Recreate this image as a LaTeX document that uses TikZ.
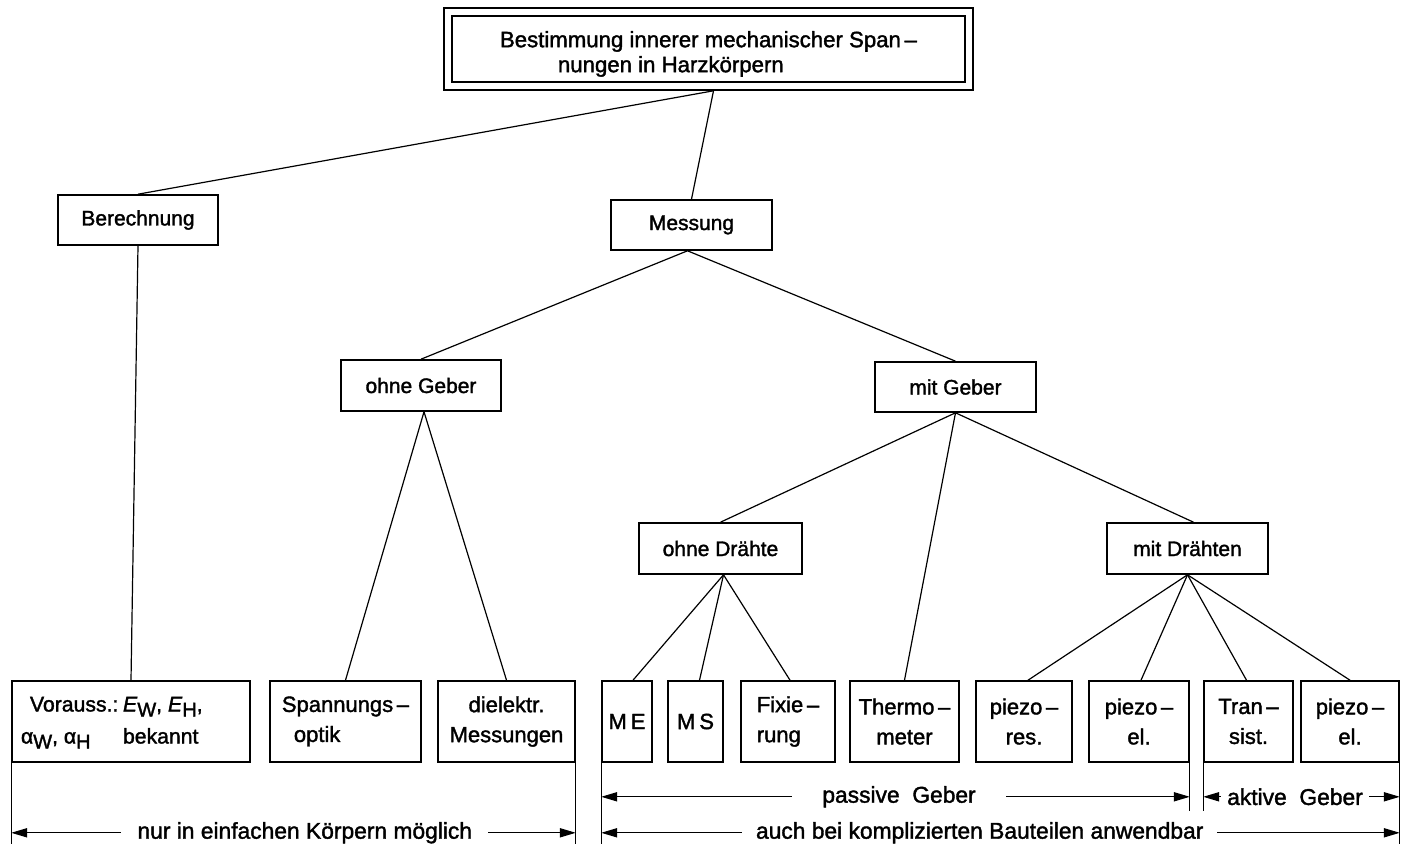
\documentclass[tikz,border=0pt]{standalone}
\usepackage{fontspec}
\setmainfont{Liberation Sans}[FakeBold=1.6]
\usetikzlibrary{arrows.meta,fit}
\newcommand{\sbs}[1]{\raisebox{-0.45ex}{\fontsize{10}{10}\selectfont #1}}
\begin{document}
\begin{tikzpicture}[x=0.5pt,y=-0.5pt,
  txt/.style={font=\fontsize{10.5}{15}\selectfont},
  btxt/.style={font=\fontsize{11}{15}\selectfont},
  box/.style={draw, line width=0.8pt, txt, inner sep=0pt, align=center},
  bbox/.style={box, btxt},
  sz/.style 2 args={minimum width=#1*0.5pt, minimum height=#2*0.5pt},
  conn/.style={line width=0.6pt},
  ext/.style={line width=0.6pt},
  dim/.style={line width=0.6pt, {Triangle[length=8pt,width=4.6pt]}-{Triangle[length=8pt,width=4.6pt]}},
  lab/.style={font=\fontsize{11.4}{14}\selectfont, fill=white, inner ysep=1pt}]
\useasboundingbox[fill=white] (0,0) rectangle (1408,844);

% top
\node[box, sz={513}{66}, font=\fontsize{11.1}{12.5}\selectfont, align=left] (top) at (708.5,49)
  {\rule{0pt}{13pt}Bestimmung innerer mechanischer Span\,–\\\hspace*{29pt}nungen in Harzkörpern};
\node[draw, line width=0.8pt, fit=(top), inner sep=3.6pt] (topo) {};

\node[box, sz={160}{50}] (ber) at (138,220) {Berechnung};
\node[box, sz={161}{50}] (mes) at (691.5,225) {Messung};
\node[box, sz={160}{51}] (ohneG) at (421,385.5) {ohne Geber};
\node[box, sz={161}{50}] (mitG) at (955.5,387) {mit Geber};
\node[box, sz={163}{51}] (ohneD) at (720.5,548.5) {ohne Drähte};
\node[box, sz={161}{51}] (mitD) at (1187.5,548.5) {mit Drähten};

% bottom row
\node[bbox, sz={238}{81}, font=\fontsize{10.6}{15}\selectfont] (vor) at (131,721.5)
  {\makebox[119pt][l]{\hspace*{4.5pt}\begin{tabular}{@{}l@{}l@{}}
   \makebox[51pt][l]{\hspace*{4.5pt}Vorauss.:} & \textit{E}\sbs{W}, \textit{E}\sbs{H},\\[1pt]
   \makebox[51pt][l]{α\sbs{W}, α\sbs{H}} & bekannt
   \end{tabular}}};
\node[bbox, sz={151}{81}, align=left] (spo) at (345.5,721.5) {Spannungs\,–\\\hspace*{6pt}optik};
\node[bbox, sz={137}{81}] (die) at (506.5,721.5) {dielektr.\\Messungen};
\node[bbox, sz={50}{81}] (me) at (627,721.5) {M\hspace{2pt}E};
\node[bbox, sz={55}{81}] (ms) at (695.5,721.5) {M\hspace{2pt}S};
\node[bbox, sz={94}{81}, align=left] (fix) at (788,721.5) {Fixie\,–\\rung};
\node[bbox, sz={109}{81}] (the) at (904.5,721.5) {Thermo\,–\\meter};
\node[bbox, sz={96}{81}] (pr) at (1024,721.5) {piezo\,–\\res.};
\node[bbox, sz={100}{81}] (pe) at (1139,721.5) {piezo\,–\\el.};
\node[bbox, sz={89}{81}] (tr) at (1248.5,721.5) {Tran\,–\\sist.};
\node[bbox, sz={98}{81}] (pe2) at (1350,721.5) {piezo\,–\\el.};

% connectors
\draw[conn] ([xshift=2.5pt]topo.south) -- (ber.north);
\draw[conn] ([xshift=2.5pt]topo.south) -- (mes.north);
\draw[conn] (ber.south) -- (vor.north);
\draw[conn] ([xshift=-2pt]mes.south) -- (ohneG.north);
\draw[conn] ([xshift=-2pt]mes.south) -- (mitG.north);
\draw[conn] ([xshift=1.5pt]ohneG.south) -- (spo.north);
\draw[conn] ([xshift=1.5pt]ohneG.south) -- (die.north);
\draw[conn] (mitG.south) -- (ohneD.north);
\draw[conn] (mitG.south) -- (the.north);
\draw[conn] (mitG.south) -- ([xshift=3pt]mitD.north);
\draw[conn] ([xshift=1.5pt]ohneD.south) -- ([xshift=3pt]me.north);
\draw[conn] ([xshift=1.5pt]ohneD.south) -- ([xshift=2pt]ms.north);
\draw[conn] ([xshift=1.5pt]ohneD.south) -- ([xshift=1pt]fix.north);
\draw[conn] (mitD.south) -- ([xshift=2pt]pr.north);
\draw[conn] (mitD.south) -- ([xshift=1pt]pe.north);
\draw[conn] (mitD.south) -- ([xshift=-1pt]tr.north);
\draw[conn] (mitD.south) -- (pe2.north);

% extension lines
\path (vor.south west) ++(0,82) coordinate (vorB) ++(0,-12) coordinate (nl);
\path (die.south east) ++(0,82) coordinate (dieB) ++(0,-12) coordinate (nr);
\path (me.south west) ++(0,82) coordinate (meB);
\path (me.south west) ++(0,34) coordinate (pl);
\path (me.south west) ++(0,70) coordinate (al);
\path (pe.south east) ++(0,48) coordinate (peB);
\path (pe.south east) ++(0,34) coordinate (pr2);
\path (tr.south west) ++(0,48) coordinate (trB);
\path (tr.south west) ++(0,34) coordinate (kl);
\path (pe2.south east) ++(0,82) coordinate (pe2B);
\path (pe2.south east) ++(0,34) coordinate (kr);
\path (pe2.south east) ++(0,70) coordinate (ar);
\draw[ext] (vor.south west) -- (vorB);
\draw[ext] (die.south east) -- (dieB);
\draw[ext] (me.south west) -- (meB);
\draw[ext] (pe.south east) -- (peB);
\draw[ext] (tr.south west) -- (trB);
\draw[ext] (pe2.south east) -- (pe2B);

% dimension arrows
\draw[dim] (nl) -- (nr) node[lab, pos=0.52, inner xsep=8pt] {nur in einfachen Körpern möglich};
\draw[dim] (pl) -- (pr2) node[lab, pos=0.506, inner xsep=15pt] {passive\ \ Geber};
\draw[dim] (kl) -- (kr) node[lab, pos=0.467, inner xsep=3pt] {aktive\ \ Geber};
\draw[dim] (al) -- (ar) node[lab, pos=0.474, inner xsep=7pt] {auch bei komplizierten Bauteilen anwendbar};
\end{tikzpicture}
\end{document}
